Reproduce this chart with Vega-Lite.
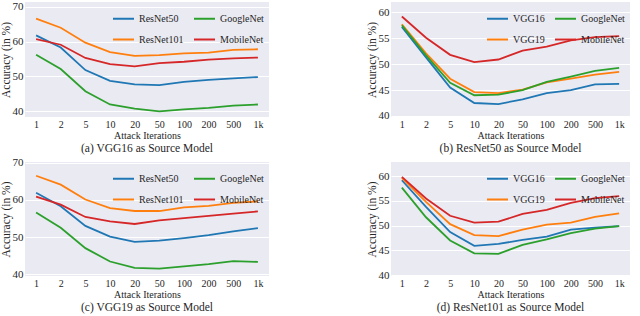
{
  "$schema": "https://vega.github.io/schema/vega-lite/v6.json",
  "padding": {"left": 0, "top": 0, "right": 2, "bottom": 0},
  "background": "white",
  "config": {
    "font": "Liberation Serif",
    "view": {"fill": "#EAEAF2", "stroke": null},
    "axis": {
      "domain": false, "ticks": false, "gridColor": "white", "gridWidth": 1, "gridOpacity": 1,
      "labelFont": "Liberation Serif", "labelFontSize": 11, "labelColor": "#262626", "labelPadding": 2,
      "titleFont": "Liberation Serif", "titleFontSize": 10, "titleFontWeight": "normal", "titleColor": "#262626", "titlePadding": 1
    },
    "axisX": {"labelFontSize": 10, "titleFontSize": 10, "labelPadding": 2, "titlePadding": 1},
    "axisY": {"labelFontSize": 11, "titleFontSize": 11.5, "titlePadding": 1},
    "legend": {
      "orient": "top-right", "columns": 2, "title": null, "symbolType": "stroke", "symbolSize": 441, "symbolStrokeWidth": 2,
      "labelFont": "Liberation Serif", "labelFontSize": 10, "labelColor": "#262626", "offset": 5, "padding": 0,
      "rowPadding": 4, "columnPadding": 6, "labelOffset": 4
    },
    "title": {"font": "Liberation Serif", "fontSize": 11.5, "fontWeight": "normal", "color": "#262626", "offset": 3}
  },
  "datasets": {
    "a": [
      {"iter":"1","model":"ResNet50","acc":61.8},{"iter":"2","model":"ResNet50","acc":58.3},{"iter":"5","model":"ResNet50","acc":51.8},{"iter":"10","model":"ResNet50","acc":48.7},{"iter":"20","model":"ResNet50","acc":47.7},{"iter":"50","model":"ResNet50","acc":47.5},{"iter":"100","model":"ResNet50","acc":48.4},{"iter":"200","model":"ResNet50","acc":49.0},{"iter":"500","model":"ResNet50","acc":49.4},{"iter":"1k","model":"ResNet50","acc":49.8},
      {"iter":"1","model":"ResNet101","acc":66.6},{"iter":"2","model":"ResNet101","acc":64.0},{"iter":"5","model":"ResNet101","acc":59.7},{"iter":"10","model":"ResNet101","acc":57.0},{"iter":"20","model":"ResNet101","acc":55.9},{"iter":"50","model":"ResNet101","acc":56.1},{"iter":"100","model":"ResNet101","acc":56.6},{"iter":"200","model":"ResNet101","acc":56.8},{"iter":"500","model":"ResNet101","acc":57.6},{"iter":"1k","model":"ResNet101","acc":57.8},
      {"iter":"1","model":"GoogleNet","acc":56.2},{"iter":"2","model":"GoogleNet","acc":52.1},{"iter":"5","model":"GoogleNet","acc":45.7},{"iter":"10","model":"GoogleNet","acc":41.9},{"iter":"20","model":"GoogleNet","acc":40.7},{"iter":"50","model":"GoogleNet","acc":39.9},{"iter":"100","model":"GoogleNet","acc":40.5},{"iter":"200","model":"GoogleNet","acc":40.9},{"iter":"500","model":"GoogleNet","acc":41.6},{"iter":"1k","model":"GoogleNet","acc":41.9},
      {"iter":"1","model":"MobileNet","acc":60.7},{"iter":"2","model":"MobileNet","acc":59.1},{"iter":"5","model":"MobileNet","acc":55.3},{"iter":"10","model":"MobileNet","acc":53.5},{"iter":"20","model":"MobileNet","acc":52.9},{"iter":"50","model":"MobileNet","acc":53.8},{"iter":"100","model":"MobileNet","acc":54.2},{"iter":"200","model":"MobileNet","acc":54.8},{"iter":"500","model":"MobileNet","acc":55.2},{"iter":"1k","model":"MobileNet","acc":55.4}
    ],
    "b": [
      {"iter":"1","model":"VGG16","acc":57.2},{"iter":"2","model":"VGG16","acc":51.3},{"iter":"5","model":"VGG16","acc":45.5},{"iter":"10","model":"VGG16","acc":42.5},{"iter":"20","model":"VGG16","acc":42.3},{"iter":"50","model":"VGG16","acc":43.2},{"iter":"100","model":"VGG16","acc":44.4},{"iter":"200","model":"VGG16","acc":45.0},{"iter":"500","model":"VGG16","acc":46.1},{"iter":"1k","model":"VGG16","acc":46.2},
      {"iter":"1","model":"VGG19","acc":57.7},{"iter":"2","model":"VGG19","acc":52.1},{"iter":"5","model":"VGG19","acc":47.2},{"iter":"10","model":"VGG19","acc":44.6},{"iter":"20","model":"VGG19","acc":44.4},{"iter":"50","model":"VGG19","acc":45.1},{"iter":"100","model":"VGG19","acc":46.5},{"iter":"200","model":"VGG19","acc":47.2},{"iter":"500","model":"VGG19","acc":48.0},{"iter":"1k","model":"VGG19","acc":48.5},
      {"iter":"1","model":"GoogleNet","acc":57.5},{"iter":"2","model":"GoogleNet","acc":51.7},{"iter":"5","model":"GoogleNet","acc":46.4},{"iter":"10","model":"GoogleNet","acc":44.0},{"iter":"20","model":"GoogleNet","acc":44.1},{"iter":"50","model":"GoogleNet","acc":45.0},{"iter":"100","model":"GoogleNet","acc":46.6},{"iter":"200","model":"GoogleNet","acc":47.6},{"iter":"500","model":"GoogleNet","acc":48.7},{"iter":"1k","model":"GoogleNet","acc":49.3},
      {"iter":"1","model":"MobileNet","acc":59.2},{"iter":"2","model":"MobileNet","acc":55.1},{"iter":"5","model":"MobileNet","acc":51.8},{"iter":"10","model":"MobileNet","acc":50.4},{"iter":"20","model":"MobileNet","acc":50.9},{"iter":"50","model":"MobileNet","acc":52.6},{"iter":"100","model":"MobileNet","acc":53.4},{"iter":"200","model":"MobileNet","acc":54.6},{"iter":"500","model":"MobileNet","acc":55.2},{"iter":"1k","model":"MobileNet","acc":55.4}
    ],
    "c": [
      {"iter":"1","model":"ResNet50","acc":61.9},{"iter":"2","model":"ResNet50","acc":58.3},{"iter":"5","model":"ResNet50","acc":53.0},{"iter":"10","model":"ResNet50","acc":50.1},{"iter":"20","model":"ResNet50","acc":48.7},{"iter":"50","model":"ResNet50","acc":49.0},{"iter":"100","model":"ResNet50","acc":49.7},{"iter":"200","model":"ResNet50","acc":50.5},{"iter":"500","model":"ResNet50","acc":51.5},{"iter":"1k","model":"ResNet50","acc":52.4},
      {"iter":"1","model":"ResNet101","acc":66.5},{"iter":"2","model":"ResNet101","acc":64.1},{"iter":"5","model":"ResNet101","acc":60.1},{"iter":"10","model":"ResNet101","acc":57.8},{"iter":"20","model":"ResNet101","acc":57.0},{"iter":"50","model":"ResNet101","acc":57.0},{"iter":"100","model":"ResNet101","acc":58.0},{"iter":"200","model":"ResNet101","acc":58.4},{"iter":"500","model":"ResNet101","acc":59.2},{"iter":"1k","model":"ResNet101","acc":59.6},
      {"iter":"1","model":"GoogleNet","acc":56.6},{"iter":"2","model":"GoogleNet","acc":52.5},{"iter":"5","model":"GoogleNet","acc":47.0},{"iter":"10","model":"GoogleNet","acc":43.4},{"iter":"20","model":"GoogleNet","acc":41.7},{"iter":"50","model":"GoogleNet","acc":41.5},{"iter":"100","model":"GoogleNet","acc":42.1},{"iter":"200","model":"GoogleNet","acc":42.7},{"iter":"500","model":"GoogleNet","acc":43.5},{"iter":"1k","model":"GoogleNet","acc":43.3},
      {"iter":"1","model":"MobileNet","acc":60.9},{"iter":"2","model":"MobileNet","acc":58.7},{"iter":"5","model":"MobileNet","acc":55.4},{"iter":"10","model":"MobileNet","acc":54.2},{"iter":"20","model":"MobileNet","acc":53.5},{"iter":"50","model":"MobileNet","acc":54.5},{"iter":"100","model":"MobileNet","acc":55.1},{"iter":"200","model":"MobileNet","acc":55.7},{"iter":"500","model":"MobileNet","acc":56.3},{"iter":"1k","model":"MobileNet","acc":56.9}
    ],
    "d": [
      {"iter":"1","model":"VGG16","acc":59.2},{"iter":"2","model":"VGG16","acc":53.8},{"iter":"5","model":"VGG16","acc":48.7},{"iter":"10","model":"VGG16","acc":45.9},{"iter":"20","model":"VGG16","acc":46.3},{"iter":"50","model":"VGG16","acc":47.1},{"iter":"100","model":"VGG16","acc":47.8},{"iter":"200","model":"VGG16","acc":49.2},{"iter":"500","model":"VGG16","acc":49.6},{"iter":"1k","model":"VGG16","acc":49.9},
      {"iter":"1","model":"VGG19","acc":59.7},{"iter":"2","model":"VGG19","acc":54.8},{"iter":"5","model":"VGG19","acc":50.3},{"iter":"10","model":"VGG19","acc":48.1},{"iter":"20","model":"VGG19","acc":47.9},{"iter":"50","model":"VGG19","acc":49.2},{"iter":"100","model":"VGG19","acc":50.2},{"iter":"200","model":"VGG19","acc":50.6},{"iter":"500","model":"VGG19","acc":51.8},{"iter":"1k","model":"VGG19","acc":52.5},
      {"iter":"1","model":"GoogleNet","acc":57.7},{"iter":"2","model":"GoogleNet","acc":51.7},{"iter":"5","model":"GoogleNet","acc":47.0},{"iter":"10","model":"GoogleNet","acc":44.4},{"iter":"20","model":"GoogleNet","acc":44.3},{"iter":"50","model":"GoogleNet","acc":46.1},{"iter":"100","model":"GoogleNet","acc":47.2},{"iter":"200","model":"GoogleNet","acc":48.5},{"iter":"500","model":"GoogleNet","acc":49.4},{"iter":"1k","model":"GoogleNet","acc":49.9},
      {"iter":"1","model":"MobileNet","acc":59.9},{"iter":"2","model":"MobileNet","acc":55.5},{"iter":"5","model":"MobileNet","acc":52.0},{"iter":"10","model":"MobileNet","acc":50.6},{"iter":"20","model":"MobileNet","acc":50.8},{"iter":"50","model":"MobileNet","acc":52.4},{"iter":"100","model":"MobileNet","acc":53.2},{"iter":"200","model":"MobileNet","acc":54.6},{"iter":"500","model":"MobileNet","acc":55.6},{"iter":"1k","model":"MobileNet","acc":56.0}
    ]
  },
  "columns": 2,
  "align": "each",
  "spacing": {"row": 1, "column": 97},
  "resolve": {"scale": {"color": "independent", "y": "independent", "x": "independent"}, "legend": {"color": "independent"}},
  "concat": [
    {
      "width": 244, "height": 115,
      "title": {"text": "(a) VGG16 as Source Model", "orient": "bottom"},
      "data": {"name": "a"},
      "mark": {"type": "line", "strokeWidth": 1.8},
      "encoding": {
        "x": {"field": "iter", "type": "ordinal", "sort": ["1","2","5","10","20","50","100","200","500","1k"], "scale": {"type": "point", "padding": 0.45}, "axis": {"title": "Attack Iterations", "labelAngle": 0}},
        "y": {"field": "acc", "type": "quantitative", "scale": {"domain": [38.3, 71.4], "nice": false, "zero": false}, "axis": {"title": "Accuracy (in %)", "values": [40, 50, 60, 70]}},
        "color": {"field": "model", "type": "nominal", "scale": {"domain": ["ResNet50", "ResNet101", "GoogleNet", "MobileNet"], "range": ["#1f77b4", "#ff7f0e", "#2ca02c", "#d62728"]}}
      }
    },
    {
      "width": 239, "height": 115,
      "title": {"text": "(b) ResNet50 as Source Model", "orient": "bottom"},
      "data": {"name": "b"},
      "mark": {"type": "line", "strokeWidth": 1.8},
      "encoding": {
        "x": {"field": "iter", "type": "ordinal", "sort": ["1","2","5","10","20","50","100","200","500","1k"], "scale": {"type": "point", "padding": 0.45}, "axis": {"title": "Attack Iterations", "labelAngle": 0}},
        "y": {"field": "acc", "type": "quantitative", "scale": {"domain": [39.8, 62.0], "nice": false, "zero": false}, "axis": {"title": "Accuracy (in %)", "values": [40, 45, 50, 55, 60]}},
        "color": {"field": "model", "type": "nominal", "scale": {"domain": ["VGG16", "VGG19", "GoogleNet", "MobileNet"], "range": ["#1f77b4", "#ff7f0e", "#2ca02c", "#d62728"]}}
      }
    },
    {
      "width": 244, "height": 114,
      "title": {"text": "(c) VGG19 as Source Model", "orient": "bottom"},
      "data": {"name": "c"},
      "mark": {"type": "line", "strokeWidth": 1.8},
      "encoding": {
        "x": {"field": "iter", "type": "ordinal", "sort": ["1","2","5","10","20","50","100","200","500","1k"], "scale": {"type": "point", "padding": 0.45}, "axis": {"title": "Attack Iterations", "labelAngle": 0}},
        "y": {"field": "acc", "type": "quantitative", "scale": {"domain": [39.5, 70.2], "nice": false, "zero": false}, "axis": {"title": "Accuracy (in %)", "values": [40, 50, 60, 70]}},
        "color": {"field": "model", "type": "nominal", "scale": {"domain": ["ResNet50", "ResNet101", "GoogleNet", "MobileNet"], "range": ["#1f77b4", "#ff7f0e", "#2ca02c", "#d62728"]}}
      }
    },
    {
      "width": 239, "height": 114,
      "title": {"text": "(d) ResNet101 as Source Model", "orient": "bottom"},
      "data": {"name": "d"},
      "mark": {"type": "line", "strokeWidth": 1.8},
      "encoding": {
        "x": {"field": "iter", "type": "ordinal", "sort": ["1","2","5","10","20","50","100","200","500","1k"], "scale": {"type": "point", "padding": 0.45}, "axis": {"title": "Attack Iterations", "labelAngle": 0}},
        "y": {"field": "acc", "type": "quantitative", "scale": {"domain": [39.8, 62.9], "nice": false, "zero": false}, "axis": {"title": "Accuracy (in %)", "values": [40, 45, 50, 55, 60]}},
        "color": {"field": "model", "type": "nominal", "scale": {"domain": ["VGG16", "VGG19", "GoogleNet", "MobileNet"], "range": ["#1f77b4", "#ff7f0e", "#2ca02c", "#d62728"]}}
      }
    }
  ]
}
